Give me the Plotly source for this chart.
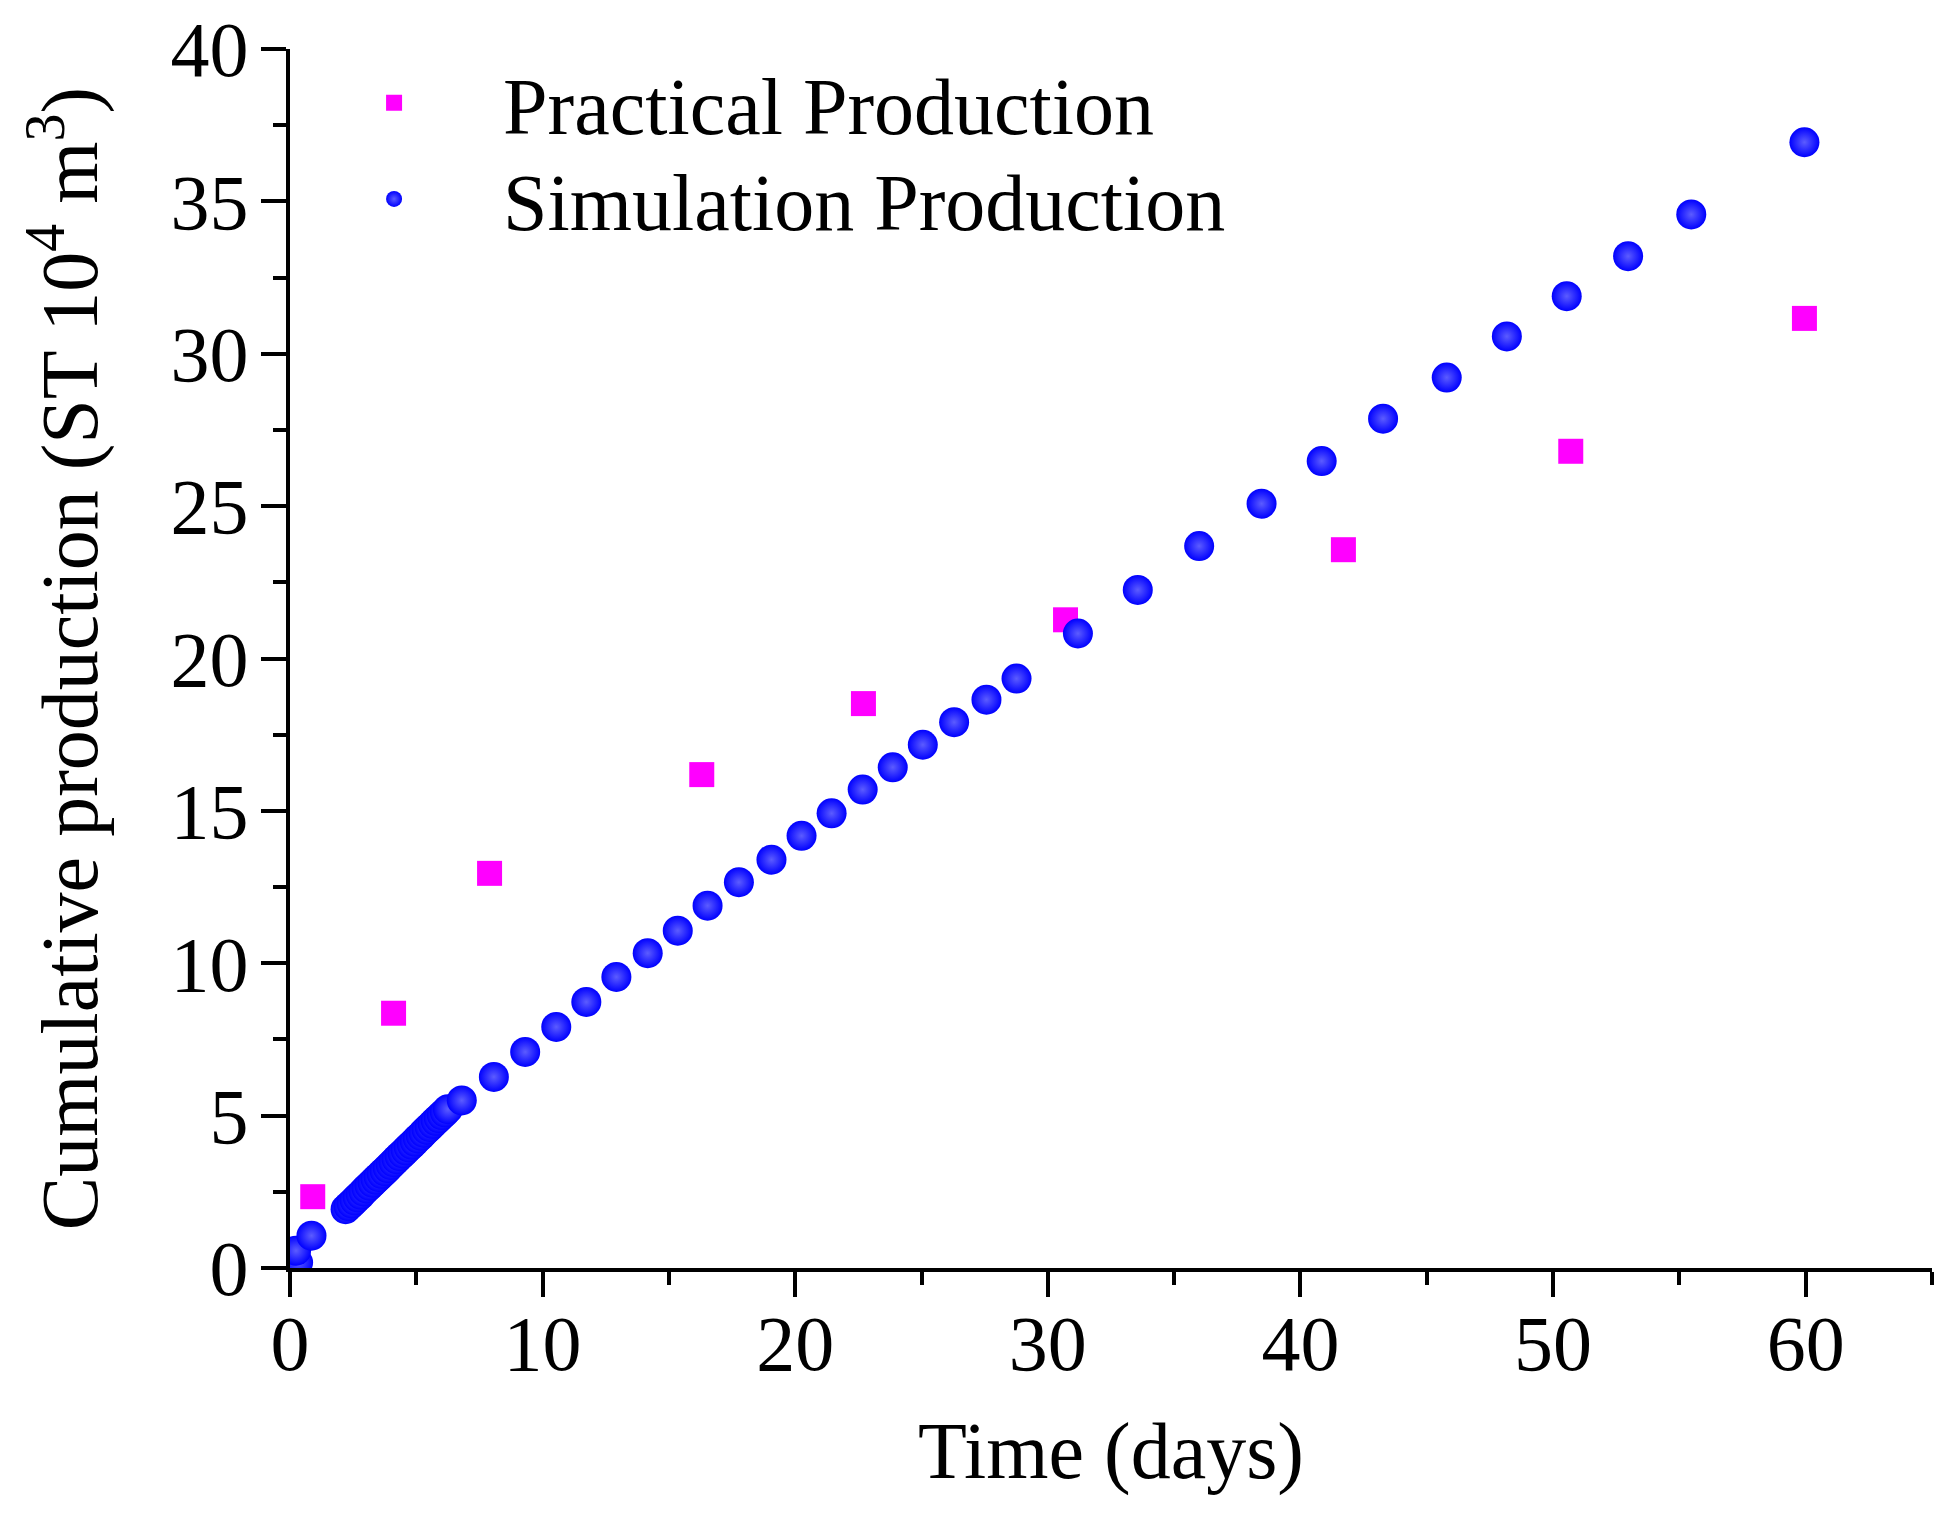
import plotly.graph_objects as go

# Practical (field) cumulative production
practical_days = [0.9, 4.1, 7.9, 16.3, 22.7, 30.7, 41.7, 50.7, 59.95]
practical_prod = [2.34, 8.36, 12.95, 16.19, 18.52, 21.27, 23.57, 26.8, 31.16]

# Simulated cumulative production (dense early steps, then coarser ones)
sim_days = [0.32, 0.24, 0.85,
            2.20, 2.32, 2.44, 2.56, 2.68, 2.80, 2.91, 3.03, 3.15, 3.27,
            3.39, 3.51, 3.63, 3.75, 3.87, 3.99, 4.10, 4.22, 4.34, 4.46,
            4.58, 4.70, 4.82, 4.94, 5.06, 5.18, 5.29, 5.41, 5.53, 5.65,
            5.77, 5.89, 6.01, 6.13, 6.25,
            6.8, 8.07, 9.31, 10.54, 11.73, 12.92, 14.16, 15.35, 16.53, 17.77,
            19.06, 20.25, 21.44, 22.67, 23.86, 25.05, 26.29, 27.57, 28.76,
            31.19, 33.56, 35.99, 38.46, 40.84, 43.27, 45.79, 48.17, 50.54,
            52.97, 55.47, 59.95]
sim_prod = [0.18, 0.57, 1.06,
            1.93, 2.03, 2.12, 2.22, 2.32, 2.41, 2.51, 2.61, 2.70, 2.80,
            2.90, 2.99, 3.09, 3.18, 3.28, 3.38, 3.47, 3.57, 3.67, 3.76,
            3.86, 3.96, 4.05, 4.15, 4.25, 4.34, 4.44, 4.54, 4.63, 4.73,
            4.83, 4.92, 5.02, 5.11, 5.21,
            5.5, 6.27, 7.09, 7.91, 8.73, 9.55, 10.33, 11.07, 11.89, 12.66,
            13.40, 14.18, 14.92, 15.70, 16.43, 17.17, 17.91, 18.65, 19.34,
            20.82, 22.25, 23.69, 25.08, 26.48, 27.87, 29.22, 30.57, 31.89,
            33.20, 34.57, 36.94]

FONT = "Liberation Serif, Times New Roman, serif"

fig = go.Figure()

fig.add_trace(go.Scatter(
    x=practical_days,
    y=practical_prod,
    mode='markers',
    name="Practical Production",
    legend='legend',
    marker=dict(symbol='square', size=25, color='#ff00ff'),
))

fig.add_trace(go.Scatter(
    x=sim_days,
    y=sim_prod,
    mode='markers',
    name="Simulation Production",
    legend='legend2',
    marker=dict(symbol='circle', size=30, color='#0000ff',
                gradient=dict(type='radial', color='#5c5cff')),
))

axis_common = dict(
    showgrid=False,
    zeroline=False,
    showline=True,
    automargin=False,
    linecolor='black',
    linewidth=4,
    ticks='outside',
    ticklen=25,
    tickwidth=4,
    tickcolor='black',
    tickfont=dict(family=FONT, size=78, color='black'),
    minor=dict(ticks='outside', ticklen=13, tickwidth=4, tickcolor='black'),
)

# one legend box per entry so the rows can sit where they do in the original
legend_common = dict(
    x=-0.003,
    xanchor='left',
    yanchor='middle',
    bgcolor='rgba(0,0,0,0)',
    font=dict(family=FONT, size=80, color='black'),
    itemwidth=208,
)

fig.update_layout(
    width=1959,
    height=1514,
    autosize=False,
    paper_bgcolor='white',
    plot_bgcolor='white',
    margin=dict(l=290, r=27, t=49, b=246, autoexpand=False),
    font=dict(family=FONT, color='black'),
    xaxis=dict(
        range=[0, 65],
        tickvals=[0, 10, 20, 30, 40, 50, 60],
        minor_dtick=5,
        ticklabelstandoff=-21,
        title=dict(text="Time (days)", font=dict(family=FONT, size=80), standoff=37),
        **axis_common
    ),
    yaxis=dict(
        range=[0, 40],
        dtick=5,
        minor_dtick=2.5,
        ticklabelstandoff=-3,
        title=dict(text="Cumulative production (ST 10<sup>4</sup> m<sup>3</sup>)",
                   font=dict(family=FONT, size=80), standoff=47),
        **axis_common
    ),
    legend=dict(y=0.956, **legend_common),
    legend2=dict(y=0.877, **legend_common),
    showlegend=True,
)

# drop the browser's default body margin so the figure fills the window exactly
fig.write_html("out.html", config={'displayModeBar': False},
               post_script="document.body.style.margin = '0';")
